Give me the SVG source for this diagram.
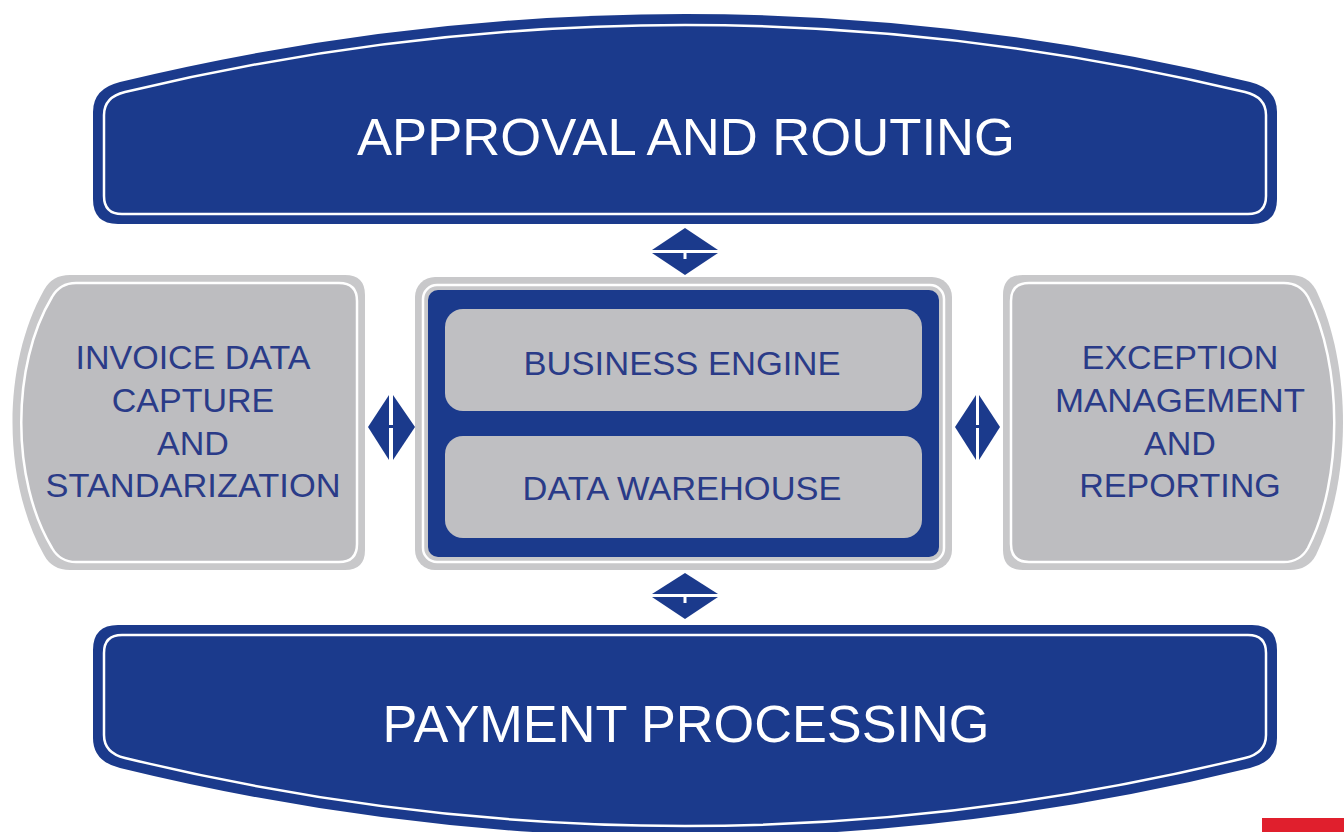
<svg xmlns="http://www.w3.org/2000/svg" width="1344" height="832" viewBox="0 0 1344 832">
<style>
.blue{fill:#1b3a8c}
.wline{fill:none;stroke:#ffffff;stroke-width:2.5}
.band{fill:#c8c8ca}
.gfill{fill:#bdbdc0;stroke:#ffffff;stroke-width:2.5}
.box{fill:#bfbfc2}
.wt{font-family:"Liberation Sans",Arial,sans-serif;font-size:52px;fill:#ffffff;text-anchor:middle}
.dt{font-family:"Liberation Sans",Arial,sans-serif;font-size:34px;fill:#2a3b88;text-anchor:middle}
.arr{fill:#1b3a8c}
.gap{fill:#ffffff}
</style>
<rect width="1344" height="832" fill="#ffffff"/>

<g id="approval">
<path class="blue" d="M93,112 Q93,88.5 120,82 Q685,-54 1250,82 Q1277,88.5 1277,112 V199 Q1277,224 1252,224 H118 Q93,224 93,199 Z"/>
<path class="wline" d="M104,115 Q104,97 125,92 Q685,-42 1245,92 Q1266,97 1266,115 V196 Q1266,214 1248,214 H122 Q104,214 104,196 Z"/>
<text class="wt" x="686" y="155" textLength="658" lengthAdjust="spacingAndGlyphs">APPROVAL AND ROUTING</text>
</g>

<g id="payment">
<path class="blue" d="M93,650 Q93,625 118,625 H1252 Q1277,625 1277,650 V738 Q1277,761.5 1250,768 Q685,906 120,768 Q93,761.5 93,738 Z"/>
<path class="wline" d="M104,653 Q104,635 122,635 H1248 Q1266,635 1266,653 V735 Q1266,753 1245,758 Q685,894 125,758 Q104,753 104,735 Z"/>
<text class="wt" x="686" y="742" textLength="607" lengthAdjust="spacingAndGlyphs">PAYMENT PROCESSING</text>
</g>

<g id="invoice">
<path class="band" d="M70,275 H345 Q365,275 365,295 V550 Q365,570 345,570 H70 Q52,570 44,555 C2,480 2,365 44,290 Q52,275 70,275 Z"/>
<path class="gfill" d="M76,283 H339 Q357,283 357,301 V544 Q357,562 339,562 H76 Q60,562 52,548 C11,480 11,365 52,297 Q60,283 76,283 Z"/>
<text class="dt" x="193" y="369">INVOICE DATA</text>
<text class="dt" x="193" y="412">CAPTURE</text>
<text class="dt" x="193" y="455">AND</text>
<text class="dt" x="193" y="497" textLength="295" lengthAdjust="spacingAndGlyphs">STANDARIZATION</text>
</g>

<g id="core">
<rect class="band" x="415" y="277" width="537" height="293" rx="20"/>
<rect class="wline" x="423" y="285" width="521" height="277" rx="14"/>
<rect class="blue" x="428" y="290" width="511" height="267" rx="10"/>
</g>

<g id="business-engine">
<rect class="box" x="445" y="309" width="477" height="102" rx="18"/>
<text class="dt" x="682" y="375" textLength="317" lengthAdjust="spacingAndGlyphs">BUSINESS ENGINE</text>
</g>

<g id="data-warehouse">
<rect class="box" x="445" y="436" width="477" height="102" rx="18"/>
<text class="dt" x="682" y="500" textLength="319" lengthAdjust="spacingAndGlyphs">DATA WAREHOUSE</text>
</g>

<g id="exception">
<path class="band" d="M1023,275 H1290 Q1308,275 1316,290 C1352,365 1352,480 1316,555 Q1308,570 1290,570 H1023 Q1003,570 1003,550 V295 Q1003,275 1023,275 Z"/>
<path class="gfill" d="M1029,283 H1284 Q1300,283 1308,297 C1343,365 1343,480 1308,548 Q1300,562 1284,562 H1029 Q1011,562 1011,544 V301 Q1011,283 1029,283 Z"/>
<text class="dt" x="1180" y="369">EXCEPTION</text>
<text class="dt" x="1180" y="412" textLength="250" lengthAdjust="spacingAndGlyphs">MANAGEMENT</text>
<text class="dt" x="1180" y="455">AND</text>
<text class="dt" x="1180" y="497">REPORTING</text>
</g>

<g id="connectors">
<g id="arrow-top">
<polygon class="arr" points="685,228 718,250 652,250"/>
<polygon class="arr" points="652,253 718,253 685,275"/>
<rect class="gap" x="683.5" y="253" width="3" height="6"/>
</g>
<g id="arrow-bottom">
<polygon class="arr" points="685,573 718,594 652,594"/>
<polygon class="arr" points="652,597 718,597 685,619"/>
<rect class="gap" x="683.5" y="597" width="3" height="6"/>
</g>
<g id="arrow-left">
<polygon class="arr" points="368,427 389,395 389,460"/>
<polygon class="arr" points="393,395 415,427 393,460"/>
<rect class="arr" x="388" y="425" width="6" height="3"/>
</g>
<g id="arrow-right">
<polygon class="arr" points="955,427 976,395 976,460"/>
<polygon class="arr" points="979,395 1000,427 979,460"/>
<rect class="arr" x="975" y="425" width="6" height="3"/>
</g>
</g>

<rect id="red-mark" x="1262" y="818" width="82" height="14" fill="#e01f2d"/>
</svg>
